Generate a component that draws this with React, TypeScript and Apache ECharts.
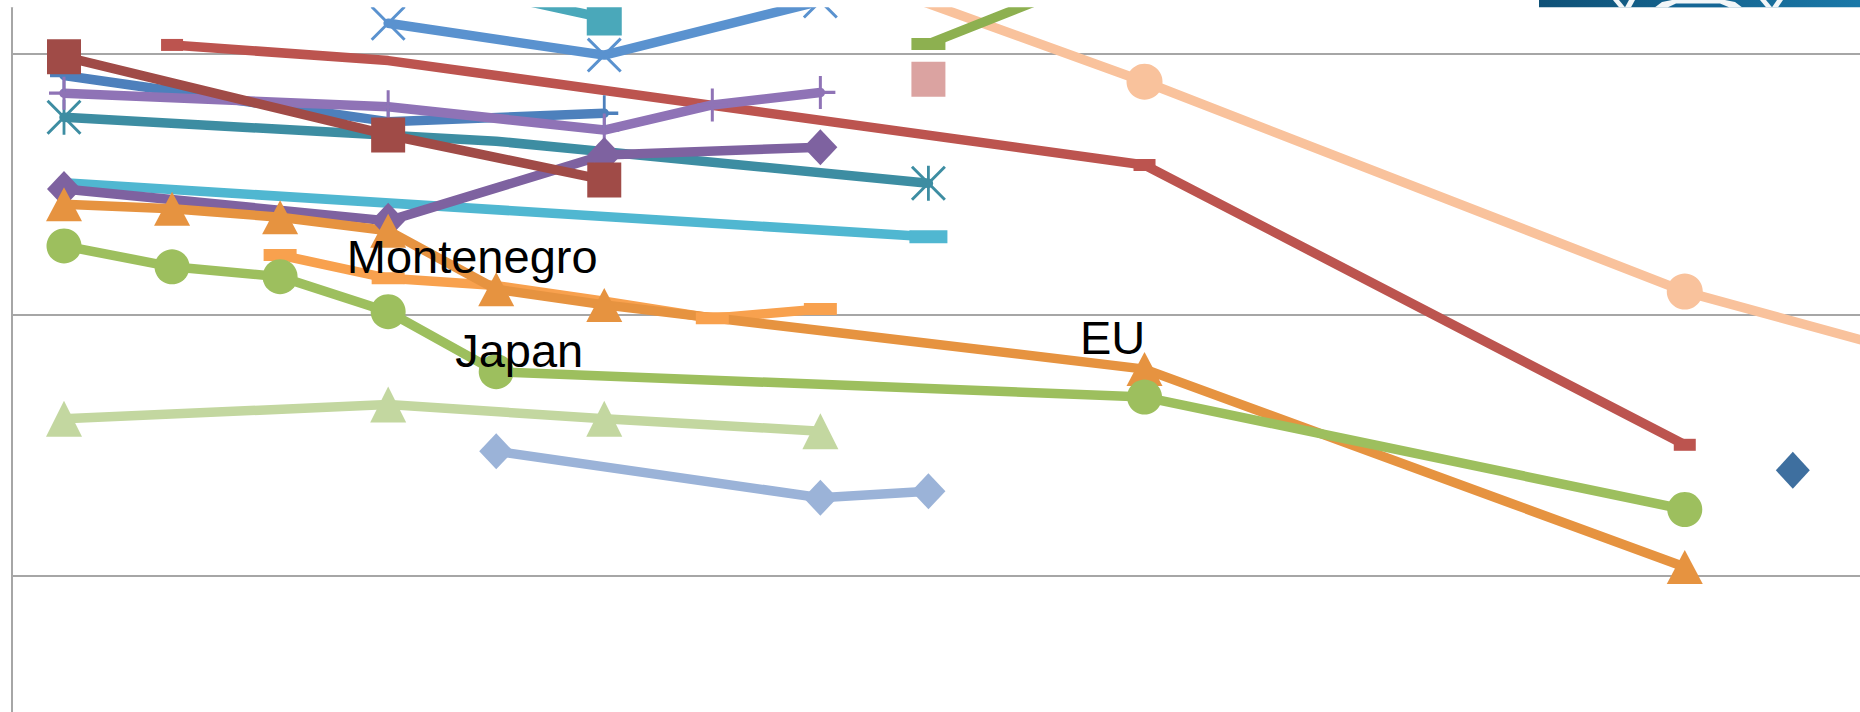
import React, { useEffect, useRef } from "react";
import * as echarts from "echarts";

// x slots (hidden category positions, left to right)
const slots = [0, 1, 2, 3, 4, 5, 6, 7, 8, 9, 10, 11, 12, 13, 14, 15, 16, 17];
const N = null;

// series values per slot (null = no point)
const cyanLine = [25.04, N, N, N, N, N, N, N, 22.97];
const tealStar = [27.55, N, N, N, 26.63, N, N, N, 25.02];
const redDash = [N, 30.32, N, 29.72, N, N, N, N, N, N, 25.72, N, N, N, N, 15.0];
const blueCross = [29.15, N, N, 27.38, N, 27.7];
const purpleCross = [28.47, N, N, 27.95, N, 27.06, 28.02, 28.5];
const purpleDiamond = [24.8, N, N, 23.58, N, 26.1, N, 26.4];
const darkRedSquare = [29.87, N, N, 26.87, N, 25.15];
const lightGreenTri = [16.0, N, N, 16.54, N, 16.0, N, 15.52];
const lightBlueDiamond = [N, N, N, N, 14.75, N, N, 12.97, 13.22];
const montenegro = [N, N, 22.27, 21.38, 21.1, 20.5, 19.85, 20.2];
const eu = [24.22, 24.04, 23.72, 23.2, 20.96, 20.36, N, N, N, N, 17.9, N, N, N, N, 10.32];
const japan = [22.62, 21.82, 21.44, 20.1, 17.8, N, N, N, N, N, 16.83, N, N, N, N, 12.52];
const peach = [N, N, N, N, N, N, N, 33.4, N, N, 28.91, N, N, N, N, 20.87, N, 18.6];
const olive = [N, N, N, N, N, N, N, N, 30.36, 32.0];
const pinkSquare = [N, N, N, N, N, N, N, N, 29.01];
const tealSquare = [N, N, N, N, 32.25, 31.35];
const blueX = [N, N, N, 31.15, N, 29.93, N, 32.0];
const darkBlueDiamond = [N, N, N, N, N, N, N, N, N, N, N, N, N, N, N, N, 14.02];

// y-axis ticks (gridlines)
const yTicks = [0, 10, 20, 30];

const FONT = "'Liberation Sans', Arial, sans-serif";
const LINE_W = 9.5;

const X_PATH =
  "path://M0,6L6,0L50,44L94,0L100,6L56,50L100,94L94,100L50,56L6,100L0,94L44,50Z";
const STAR_PATH =
  "path://M0,6L6,0L50,44L94,0L100,6L56,50L100,94L94,100L50,56L6,100L0,94L44,50ZM46,0L54,0L54,100L46,100Z";
const PLUS_PATH = "path://M45,0L55,0L55,100L45,100ZM0,45L100,45L100,55L0,55Z";

function pts(values: (number | null)[], noMarker: number[] = []) {
  const out: any[] = [];
  values.forEach((v, i) => {
    if (v == null) return;
    const x = slots[i];
    if (noMarker.includes(i)) out.push({ value: [x, v], symbol: "none" });
    else out.push([x, v]);
  });
  return out;
}

function line(
  name: string,
  values: (number | null)[],
  color: string,
  symbol: string,
  symbolSize: any,
  extra: any = {},
  noMarker: number[] = []
) {
  return {
    name,
    type: "line",
    data: pts(values, noMarker),
    symbol,
    symbolSize,
    showSymbol: true,
    showAllSymbol: true,
    silent: true,
    itemStyle: { color, borderWidth: 0 },
    lineStyle: { color, width: LINE_W, cap: "round", join: "round" },
    emphasis: { disabled: true },
    z: 2,
    ...extra,
  };
}

function labelMark(text: string, x: number, y: number, offset: number[]) {
  return {
    silent: true,
    symbol: "circle",
    symbolSize: 1,
    itemStyle: { color: "rgba(0,0,0,0)" },
    data: [
      {
        coord: [x, y],
        label: {
          show: true,
          position: "inside",
          formatter: text,
          offset,
          fontSize: 47,
          fontFamily: FONT,
          color: "#000000",
        },
      },
    ],
  };
}

export default function App() {
  const ref = useRef<HTMLDivElement>(null);

  useEffect(() => {
    if (!ref.current) return;
    const chart = echarts.init(ref.current, undefined, { renderer: "svg" });

    const series: any[] = [
      line("cyan", cyanLine, "#50B7D1", "rect", [38, 13], {}, [0]),
      line("tealStar", tealStar, "#3D8DA2", STAR_PATH, [35, 35], {}, [4]),
      line("red", redDash, "#BC544F", "rect", [22, 12], {}, [3]),
      line("blueCross", blueCross, "#4D80BC", PLUS_PATH, [28, 36]),
      line("purpleCross", purpleCross, "#8F73B6", PLUS_PATH, [30, 33]),
      line("purpleDiamond", purpleDiamond, "#7E62A0", "diamond", [34, 36]),
      line("darkRedSquare", darkRedSquare, "#A04B47", "rect", [34, 35]),
      line("lightGreen", lightGreenTri, "#C3D7A0", "triangle", [36, 36]),
      line("lightBlue", lightBlueDiamond, "#9BB3D8", "diamond", [34, 36]),
      line("Montenegro", montenegro, "#F8A14E", "rect", [33, 12], {
        markPoint: labelMark("Montenegro", slots[3], montenegro[3] as number, [84, -22]),
      }, [4, 5]),
      line("EU", eu, "#E69340", "triangle", [36, 34], {
        markPoint: labelMark("EU", slots[10], eu[10] as number, [-32, -32]),
      }),
      line("Japan", japan, "#9DBF5E", "circle", 35, {
        markPoint: labelMark("Japan", slots[4], japan[4] as number, [23, -21]),
      }),
      line("peach", peach, "#F9C29C", "circle", 36),
      line("olive", olive, "#8DB050", "rect", [34, 12]),
      line("pink", pinkSquare, "#DBA3A1", "rect", [34, 35]),
      line("tealSquare", tealSquare, "#4AA8BA", "rect", [35, 35]),
      line("blueX", blueX, "#5A92CF", X_PATH, [35, 35], { clip: false }),
      line("darkBlue", darkBlueDiamond, "#3E6F9F", "diamond", [34, 37]),
    ];

    const option: any = {
      animation: false,
      backgroundColor: "#ffffff",
      grid: { left: 12, top: 7.3, right: 5.1, bottom: 23.7, containLabel: false },
      xAxis: { type: "value", min: -0.4813, max: 17.5, show: false },
      yAxis: {
        type: "value",
        min: yTicks[0],
        max: 31.762,
        interval: yTicks[1] - yTicks[0],
        axisLine: { show: true, onZero: false, lineStyle: { color: "#A6A6A6", width: 2 } },
        axisTick: { show: false },
        axisLabel: { show: false },
        splitLine: {
          show: true,
          showMaxLine: false,
          showMinLine: false,
          lineStyle: { color: "#A6A6A6", width: 2 },
        },
      },
      series,
      graphic: [
        {
          type: "rect",
          z: 100,
          silent: true,
          shape: { x: 0, y: 0, width: 1539, height: 7.3 },
          style: { fill: "#ffffff" },
        },
        {
          type: "rect",
          z: 101,
          silent: true,
          shape: { x: 1539, y: 0, width: 421, height: 7.3 },
          style: {
            fill: {
              type: "linear",
              x: 0,
              y: 0,
              x2: 1,
              y2: 0,
              colorStops: [
                { offset: 0, color: "#0F5177" },
                { offset: 0.76, color: "#1A78A8" },
                { offset: 1, color: "#1C7BAA" },
              ],
            },
          },
        },
        {
          type: "polygon",
          z: 102,
          silent: true,
          shape: { points: [[1613, 0], [1619, 0], [1625, 7.3], [1619, 7.3]] },
          style: { fill: "#F2F6F8" },
        },
        {
          type: "polygon",
          z: 102,
          silent: true,
          shape: { points: [[1629, 0], [1635, 0], [1631, 7.3], [1625, 7.3]] },
          style: { fill: "#F2F6F8" },
        },
        {
          type: "polygon",
          z: 102,
          silent: true,
          shape: {
            points: [[1655, 7.3], [1662, 2], [1672, 0], [1725, 0], [1735, 2], [1742, 7.3]],
          },
          style: { fill: "#F2F6F8" },
        },
        {
          type: "polygon",
          z: 103,
          silent: true,
          shape: { points: [[1668, 7.3], [1676, 3.5], [1720, 3.5], [1729, 7.3]] },
          style: { fill: "#146695" },
        },
        {
          type: "polygon",
          z: 102,
          silent: true,
          shape: { points: [[1760, 0], [1766, 0], [1772, 7.3], [1766, 7.3]] },
          style: { fill: "#F2F6F8" },
        },
        {
          type: "polygon",
          z: 102,
          silent: true,
          shape: { points: [[1777, 0], [1783, 0], [1778, 7.3], [1772, 7.3]] },
          style: { fill: "#F2F6F8" },
        },
      ],
    };

    chart.setOption(option);
    return () => chart.dispose();
  }, []);

  return (
    <div
      style={{
        position: "fixed",
        left: 0,
        top: 0,
        width: 1860,
        height: 712,
        overflow: "hidden",
        background: "#ffffff",
      }}
    >
      <div ref={ref} style={{ width: 1960, height: 860 }} />
    </div>
  );
}
